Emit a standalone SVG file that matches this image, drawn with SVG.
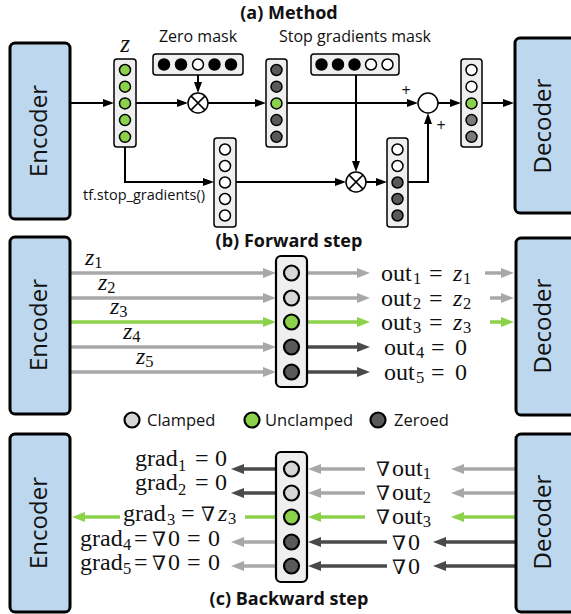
<svg xmlns="http://www.w3.org/2000/svg" width="571" height="614" viewBox="0 0 571 614">
<style>
.box{fill:#bdd7ee;stroke:#000;stroke-width:3}
.btxt{font-family:"Open Sans","DejaVu Sans",sans-serif;font-size:24px;fill:#111}
.col{fill:#efefef;stroke:#000;stroke-width:1.5}
.colb{fill:#efefef;stroke:#000;stroke-width:2.2}
.c{stroke:#000;stroke-width:1.5}
.cb{stroke:#000;stroke-width:2.2}
.gr{fill:#8bd14a}.lt{fill:#d6d6d6}.dk{fill:#595959}.md{fill:#7a7a7a}.wh{fill:#fff}.bk{fill:#000}
.title{font-family:"Open Sans","DejaVu Sans",sans-serif;font-weight:bold;font-size:18px;fill:#111}
.lbl{font-family:"Open Sans","DejaVu Sans",sans-serif;font-size:16px;fill:#111}
.leg{font-family:"Open Sans","DejaVu Sans",sans-serif;font-size:16.5px;fill:#111}
.small{font-family:"Open Sans","DejaVu Sans",sans-serif;font-size:14.5px;fill:#111}
.m{font-family:"Liberation Serif","Times New Roman",serif;font-size:24px;fill:#111}
.s{font-size:16.5px}
.i{font-style:italic}
.n{font-family:"DejaVu Serif","Liberation Serif",serif;font-size:20px}
.ka{fill:none;stroke:#000;stroke-width:2}
.ga{fill:none;stroke:#a8a8a8;stroke-width:3.5}
.da{fill:none;stroke:#4a4a4a;stroke-width:3.5}
.ea{fill:none;stroke:#8bd14a;stroke-width:3.5}
.op{fill:#fff;stroke:#000;stroke-width:1.5}
</style>
<defs>
<marker id="hk" markerUnits="userSpaceOnUse" markerWidth="11" markerHeight="8" refX="1" refY="4" orient="auto"><path d="M0,0 L11,4 L0,8 z" fill="#000"/></marker>
<marker id="hg" markerUnits="userSpaceOnUse" markerWidth="13" markerHeight="10" refX="1" refY="5" orient="auto"><path d="M0,0 L13,5 L0,10 z" fill="#a8a8a8"/></marker>
<marker id="hd" markerUnits="userSpaceOnUse" markerWidth="13" markerHeight="10" refX="1" refY="5" orient="auto"><path d="M0,0 L13,5 L0,10 z" fill="#4a4a4a"/></marker>
<marker id="he" markerUnits="userSpaceOnUse" markerWidth="13" markerHeight="10" refX="1" refY="5" orient="auto"><path d="M0,0 L13,5 L0,10 z" fill="#8bd14a"/></marker>
</defs>

<!-- ============ (a) Method ============ -->
<text class="title" x="289" y="19" text-anchor="middle">(a) Method</text>
<text class="lbl" x="198" y="42" text-anchor="middle">Zero mask</text>
<text class="lbl" x="355" y="42" text-anchor="middle">Stop gradients mask</text>
<text class="m i" x="125" y="52" text-anchor="middle" style="font-size:25px">z</text>

<g id="connectors-a">
<path class="ka" d="M70,103 H104" marker-end="url(#hk)"/>
<path class="ka" d="M136,103 H178" marker-end="url(#hk)"/>
<path class="ka" d="M208,103 H256" marker-end="url(#hk)"/>
<path class="ka" d="M287,103 H408" marker-end="url(#hk)"/>
<path class="ka" d="M438,103 H451" marker-end="url(#hk)"/>
<path class="ka" d="M482,103 H504" marker-end="url(#hk)"/>
<path class="ka" d="M198,75 V83" marker-end="url(#hk)"/>
<path class="ka" d="M125,147 V182 H204" marker-end="url(#hk)"/>
<path class="ka" d="M236,182 H336" marker-end="url(#hk)"/>
<path class="ka" d="M356,75 V162" marker-end="url(#hk)"/>
<path class="ka" d="M366,182 H377" marker-end="url(#hk)"/>
<path class="ka" d="M408,182 H428 V123" marker-end="url(#hk)"/>
</g>

<g id="encoder-a"><rect class="box" x="10" y="43" width="60" height="176" rx="5"/><text class="btxt" transform="translate(47,131) rotate(-90)" text-anchor="middle">Encoder</text></g>
<g id="decoder-a"><rect class="box" x="515" y="38" width="80" height="175" rx="5"/><text class="btxt" transform="translate(551,126) rotate(-90)" text-anchor="middle">Decoder</text></g>

<g id="z-col">
<rect class="col" x="114" y="59" width="22" height="88" rx="3"/>
<circle class="c gr" cx="125" cy="70" r="5.5"/><circle class="c gr" cx="125" cy="86.7" r="5.5"/><circle class="c gr" cx="125" cy="103.4" r="5.5"/><circle class="c gr" cx="125" cy="120.1" r="5.5"/><circle class="c gr" cx="125" cy="136.8" r="5.5"/>
</g>
<g id="zero-mask">
<rect class="col" x="153" y="54" width="90" height="21" rx="3"/>
<circle class="c bk" cx="164" cy="64.5" r="5.5"/><circle class="c bk" cx="181" cy="64.5" r="5.5"/><circle class="c wh" cx="198" cy="64.5" r="5.5"/><circle class="c bk" cx="214.5" cy="64.5" r="5.5"/><circle class="c bk" cx="231" cy="64.5" r="5.5"/>
</g>
<g id="mul-1"><circle class="op" cx="198" cy="103" r="10"/><path class="c" d="M190.9,95.9 L205.1,110.1 M205.1,95.9 L190.9,110.1"/></g>
<g id="masked-col">
<rect class="col" x="266" y="59" width="21" height="88" rx="3"/>
<circle class="c dk" cx="276.5" cy="70" r="5.5"/><circle class="c dk" cx="276.5" cy="86.7" r="5.5"/><circle class="c gr" cx="276.5" cy="103.4" r="5.5"/><circle class="c dk" cx="276.5" cy="120.1" r="5.5"/><circle class="c dk" cx="276.5" cy="136.8" r="5.5"/>
</g>
<g id="stopgrad-col">
<rect class="col" x="214" y="138" width="22" height="89" rx="3"/>
<circle class="c wh" cx="225" cy="149.5" r="5.5"/><circle class="c wh" cx="225" cy="166" r="5.5"/><circle class="c wh" cx="225" cy="182.5" r="5.5"/><circle class="c wh" cx="225" cy="199" r="5.5"/><circle class="c wh" cx="225" cy="215.5" r="5.5"/>
</g>
<text class="small" x="83" y="200">tf.stop_gradients()</text>
<g id="stop-mask">
<rect class="col" x="311" y="54" width="88" height="21" rx="3"/>
<circle class="c bk" cx="321.5" cy="64.5" r="5.5"/><circle class="c bk" cx="338" cy="64.5" r="5.5"/><circle class="c bk" cx="354.5" cy="64.5" r="5.5"/><circle class="c wh" cx="371" cy="64.5" r="5.5"/><circle class="c wh" cx="387.5" cy="64.5" r="5.5"/>
</g>
<g id="mul-2"><circle class="op" cx="356" cy="182" r="10"/><path class="c" d="M348.9,174.9 L363.1,189.1 M363.1,174.9 L348.9,189.1"/></g>
<g id="stopmasked-col">
<rect class="col" x="387" y="138" width="21" height="89" rx="3"/>
<circle class="c wh" cx="397.5" cy="149.5" r="5.5"/><circle class="c wh" cx="397.5" cy="166" r="5.5"/><circle class="c dk" cx="397.5" cy="182.5" r="5.5"/><circle class="c dk" cx="397.5" cy="199" r="5.5"/><circle class="c dk" cx="397.5" cy="215.5" r="5.5"/>
</g>
<g id="sum"><circle class="op" cx="428" cy="103" r="10"/></g>
<text class="lbl" x="406" y="96" text-anchor="middle">+</text>
<text class="lbl" x="441" y="131" text-anchor="middle">+</text>
<g id="out-col">
<rect class="col" x="461" y="59" width="21" height="88" rx="3"/>
<circle class="c wh" cx="471.5" cy="70" r="5.5"/><circle class="c wh" cx="471.5" cy="86.7" r="5.5"/><circle class="c gr" cx="471.5" cy="103.4" r="5.5"/><circle class="c md" cx="471.5" cy="120.1" r="5.5"/><circle class="c md" cx="471.5" cy="136.8" r="5.5"/>
</g>

<!-- ============ (b) Forward step ============ -->
<text class="title" x="289" y="247" text-anchor="middle">(b) Forward step</text>
<g id="connectors-b">
<path class="ga" d="M70,273 H264" marker-end="url(#hg)"/>
<path class="ga" d="M70,298 H264" marker-end="url(#hg)"/>
<path class="ea" d="M70,322 H264" marker-end="url(#he)"/>
<path class="ga" d="M70,347 H264" marker-end="url(#hg)"/>
<path class="ga" d="M70,372 H264" marker-end="url(#hg)"/>
<path class="ga" d="M307,273 H358" marker-end="url(#hg)"/>
<path class="ga" d="M307,298 H358" marker-end="url(#hg)"/>
<path class="ea" d="M307,322 H358" marker-end="url(#he)"/>
<path class="da" d="M307,347 H358" marker-end="url(#hd)"/>
<path class="da" d="M307,372 H358" marker-end="url(#hd)"/>
<path class="ga" d="M485,273 H502" marker-end="url(#hg)"/>
<path class="ga" d="M490,298 H502" marker-end="url(#hg)"/>
<path class="ea" d="M490,322 H502" marker-end="url(#he)"/>
</g>
<g id="encoder-b"><rect class="box" x="10" y="237" width="60" height="177" rx="5"/><text class="btxt" transform="translate(47,325) rotate(-90)" text-anchor="middle">Encoder</text></g>
<g id="decoder-b"><rect class="box" x="516" y="238" width="80" height="177" rx="5"/><text class="btxt" transform="translate(551,326) rotate(-90)" text-anchor="middle">Decoder</text></g>
<g id="clamp-col-b">
<rect class="colb" x="276" y="256" width="31" height="131" rx="5"/>
<circle class="cb lt" cx="291.5" cy="273" r="7.5"/><circle class="cb lt" cx="291.5" cy="298" r="7.5"/><circle class="cb gr" cx="291.5" cy="322" r="7.5"/><circle class="cb dk" cx="291.5" cy="347" r="7.5"/><circle class="cb dk" cx="291.5" cy="372" r="7.5"/>
</g>
<g class="m">
<text x="85" y="265"><tspan class="i">z</tspan><tspan class="s" dy="3">1</tspan></text>
<text x="98" y="290"><tspan class="i">z</tspan><tspan class="s" dy="3">2</tspan></text>
<text x="110" y="314"><tspan class="i">z</tspan><tspan class="s" dy="3">3</tspan></text>
<text x="123" y="339"><tspan class="i">z</tspan><tspan class="s" dy="3">4</tspan></text>
<text x="136" y="364"><tspan class="i">z</tspan><tspan class="s" dy="3">5</tspan></text>

<text x="381" y="281">out<tspan class="s" x="413" dy="3">1</tspan><tspan x="429" dy="-3">=</tspan><tspan class="i" x="453">z</tspan><tspan class="s" x="463" dy="3">1</tspan></text>
<text x="381" y="306">out<tspan class="s" x="413" dy="3">2</tspan><tspan x="429" dy="-3">=</tspan><tspan class="i" x="453">z</tspan><tspan class="s" x="463" dy="3">2</tspan></text>
<text x="381" y="330">out<tspan class="s" x="413" dy="3">3</tspan><tspan x="429" dy="-3">=</tspan><tspan class="i" x="453">z</tspan><tspan class="s" x="463" dy="3">3</tspan></text>
<text x="384" y="355">out<tspan class="s" x="416" dy="3">4</tspan><tspan x="431" dy="-3">=</tspan><tspan x="455">0</tspan></text>
<text x="384" y="380">out<tspan class="s" x="416" dy="3">5</tspan><tspan x="431" dy="-3">=</tspan><tspan x="455">0</tspan></text>
</g>

<!-- legend -->
<g id="legend">
<circle class="cb lt" cx="132" cy="420" r="7.5"/><text class="leg" x="147" y="426">Clamped</text>
<circle class="cb gr" cx="252" cy="420" r="7.5"/><text class="leg" x="265" y="426">Unclamped</text>
<circle class="cb dk" cx="378" cy="420" r="7.5"/><text class="leg" x="394" y="426">Zeroed</text>
</g>

<!-- ============ (c) Backward step ============ -->
<g id="connectors-c">
<path class="da" d="M276,469 H243" marker-end="url(#hd)"/>
<path class="da" d="M276,493 H243" marker-end="url(#hd)"/>
<path class="ea" d="M276,517 H245"/>
<path class="ea" d="M120,517 H84" marker-end="url(#he)"/>
<path class="ga" d="M276,542 H243" marker-end="url(#hg)"/>
<path class="ga" d="M276,566 H243" marker-end="url(#hg)"/>
<path class="ga" d="M365,469 H320" marker-end="url(#hg)"/>
<path class="ga" d="M365,493 H320" marker-end="url(#hg)"/>
<path class="ea" d="M365,517 H320" marker-end="url(#he)"/>
<path class="da" d="M387,542 H320" marker-end="url(#hd)"/>
<path class="da" d="M387,566 H320" marker-end="url(#hd)"/>
<path class="ga" d="M516,469 H463" marker-end="url(#hg)"/>
<path class="ga" d="M516,493 H463" marker-end="url(#hg)"/>
<path class="ea" d="M516,517 H463" marker-end="url(#he)"/>
<path class="da" d="M516,542 H445" marker-end="url(#hd)"/>
<path class="da" d="M516,566 H445" marker-end="url(#hd)"/>
</g>
<g id="encoder-c"><rect class="box" x="10" y="434" width="60" height="178" rx="5"/><text class="btxt" transform="translate(47,523) rotate(-90)" text-anchor="middle">Encoder</text></g>
<g id="decoder-c"><rect class="box" x="516" y="434" width="80" height="178" rx="5"/><text class="btxt" transform="translate(551,522) rotate(-90)" text-anchor="middle">Decoder</text></g>
<g id="clamp-col-c">
<rect class="colb" x="276" y="452" width="31" height="130" rx="5"/>
<circle class="cb lt" cx="291.5" cy="469" r="7.5"/><circle class="cb lt" cx="291.5" cy="493" r="7.5"/><circle class="cb gr" cx="291.5" cy="517" r="7.5"/><circle class="cb dk" cx="291.5" cy="542" r="7.5"/><circle class="cb dk" cx="291.5" cy="566" r="7.5"/>
</g>
<g class="m">
<text x="135" y="466">grad<tspan class="s" x="178" dy="5">1</tspan><tspan x="195" dy="-5">=</tspan><tspan x="215">0</tspan></text>
<text x="135" y="490">grad<tspan class="s" x="178" dy="5">2</tspan><tspan x="195" dy="-5">=</tspan><tspan x="215">0</tspan></text>
<text x="123" y="521">grad<tspan class="s" x="167" dy="4">3</tspan><tspan x="181" dy="-4">=</tspan><tspan class="n" x="201">∇</tspan><tspan class="i" x="218">z</tspan><tspan class="s" x="228" dy="3">3</tspan></text>
<text x="80" y="546">grad<tspan class="s" x="123" dy="4">4</tspan><tspan x="134" dy="-4">=</tspan><tspan class="n" x="152">∇</tspan><tspan x="168">0</tspan><tspan x="187">=</tspan><tspan x="208">0</tspan></text>
<text x="80" y="570">grad<tspan class="s" x="123" dy="4">5</tspan><tspan x="134" dy="-4">=</tspan><tspan class="n" x="152">∇</tspan><tspan x="168">0</tspan><tspan x="187">=</tspan><tspan x="208">0</tspan></text>

<text x="376" y="476"><tspan class="n">∇</tspan><tspan x="392">out</tspan><tspan class="s" dy="3">1</tspan></text>
<text x="376" y="500"><tspan class="n">∇</tspan><tspan x="392">out</tspan><tspan class="s" dy="3">2</tspan></text>
<text x="376" y="524"><tspan class="n">∇</tspan><tspan x="392">out</tspan><tspan class="s" dy="3">3</tspan></text>
<text x="392" y="550"><tspan class="n">∇</tspan><tspan x="408">0</tspan></text>
<text x="392" y="574"><tspan class="n">∇</tspan><tspan x="408">0</tspan></text>
</g>
<text class="title" x="289" y="605" text-anchor="middle">(c) Backward step</text>
</svg>
